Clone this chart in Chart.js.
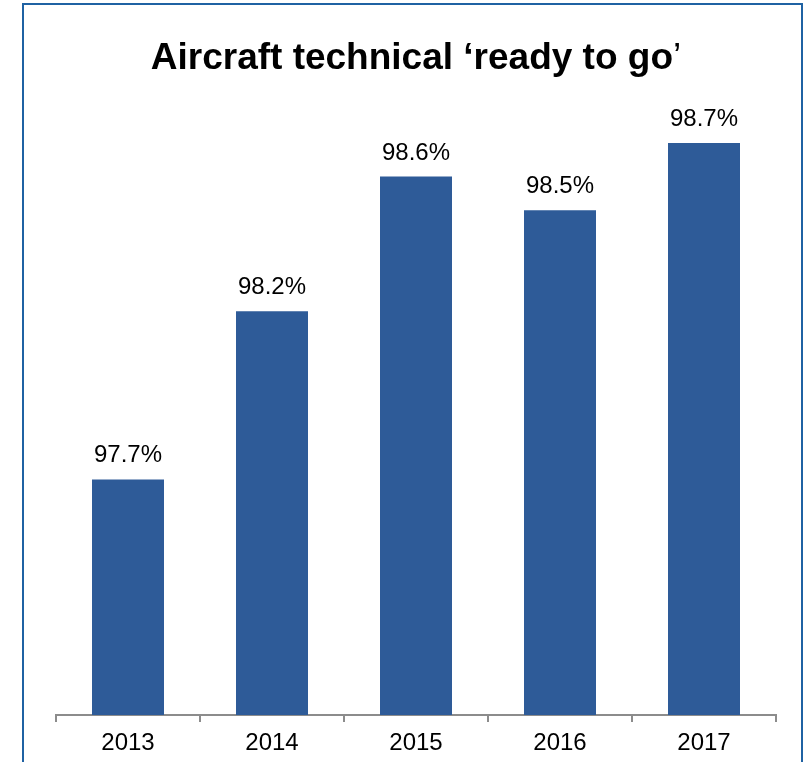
<!DOCTYPE html>
<html>
<head>
<meta charset="utf-8">
<script src="https://cdn.jsdelivr.net/npm/chart.js@4.4.1/dist/chart.umd.min.js"></script>
<style>
  html, body { margin: 0; padding: 0; background: #ffffff; }
  #wrap { width: 807px; height: 762px; position: relative; }
</style>
</head>
<body>
<div id="wrap"><canvas id="chart" width="807" height="762"></canvas></div>
<script>
// Share of scheduled departures with the aircraft technically ready
const years = ['2013', '2014', '2015', '2016', '2017'];
const readyToGo = [97.7, 98.2, 98.6, 98.5, 98.7];
const titleBold = 'Aircraft technical \u2018ready to go';
const titleTail = '\u2019';

const FONT = '"Liberation Sans", Arial, Helvetica, sans-serif';
const BAR_COLOR = '#2E5B98';
const AXIS_COLOR = '#8C8C8C';

// Frame around the whole panel
const framePlugin = {
  id: 'frame',
  beforeDraw(chart) {
    const ctx = chart.ctx;
    ctx.save();
    ctx.fillStyle = '#ffffff';
    ctx.fillRect(0, 0, chart.width, chart.height);
    ctx.strokeStyle = '#1F62A3';
    ctx.lineWidth = 2;
    ctx.strokeRect(23, 4, 779, 800);
    ctx.restore();
  }
};

// Title with a bold body and a regular closing quote
const titlePlugin = {
  id: 'mixedTitle',
  afterDraw(chart) {
    const ctx = chart.ctx;
    ctx.save();
    ctx.fillStyle = '#000000';
    ctx.textBaseline = 'alphabetic';
    const boldFont = 'bold 37px ' + FONT;
    const normFont = '37px ' + FONT;
    ctx.font = boldFont;
    const w1 = ctx.measureText(titleBold).width;
    ctx.font = normFont;
    const w2 = ctx.measureText(titleTail).width;
    const cx = (chart.chartArea.left + chart.chartArea.right) / 2;
    const x = cx - (w1 + w2) / 2;
    const y = 69;
    ctx.font = boldFont;
    ctx.textAlign = 'left';
    ctx.fillText(titleBold, x, y);
    ctx.font = normFont;
    ctx.fillText(titleTail, x + w1, y);
    ctx.restore();
  }
};

// Value labels above each bar
const valueLabels = {
  id: 'valueLabels',
  afterDatasetsDraw(chart) {
    const ctx = chart.ctx;
    const meta = chart.getDatasetMeta(0);
    ctx.save();
    ctx.font = '24px ' + FONT;
    ctx.fillStyle = '#000000';
    ctx.textAlign = 'center';
    ctx.textBaseline = 'alphabetic';
    meta.data.forEach((bar, i) => {
      const v = chart.data.datasets[0].data[i];
      ctx.fillText(v.toFixed(1) + '%', bar.x, bar.y - 17);
    });
    ctx.restore();
  }
};

new Chart(document.getElementById('chart'), {
  type: 'bar',
  data: {
    labels: years,
    datasets: [{
      data: readyToGo,
      backgroundColor: BAR_COLOR,
      borderWidth: 0,
      categoryPercentage: 1.0,
      barPercentage: 0.5
    }]
  },
  options: {
    responsive: false,
    animation: false,
    devicePixelRatio: 1,
    layout: { padding: { left: 56, right: 31, top: 42, bottom: 0 } },
    plugins: {
      legend: { display: false },
      title: { display: false },
      tooltip: { enabled: false }
    },
    scales: {
      x: {
        offset: true,
        grid: {
          display: true,
          offset: true,
          drawOnChartArea: false,
          drawTicks: true,
          tickLength: 7,
          color: AXIS_COLOR,
          lineWidth: 2
        },
        border: { display: true, color: AXIS_COLOR, width: 2 },
        ticks: {
          color: '#000000',
          font: { family: FONT, size: 24 },
          padding: 7,
          maxRotation: 0
        },
        afterFit(scale) { scale.height = 47; }
      },
      y: {
        display: false,
        min: 97,
        max: 99
      }
    }
  },
  plugins: [framePlugin, titlePlugin, valueLabels]
});
</script>
</body>
</html>
